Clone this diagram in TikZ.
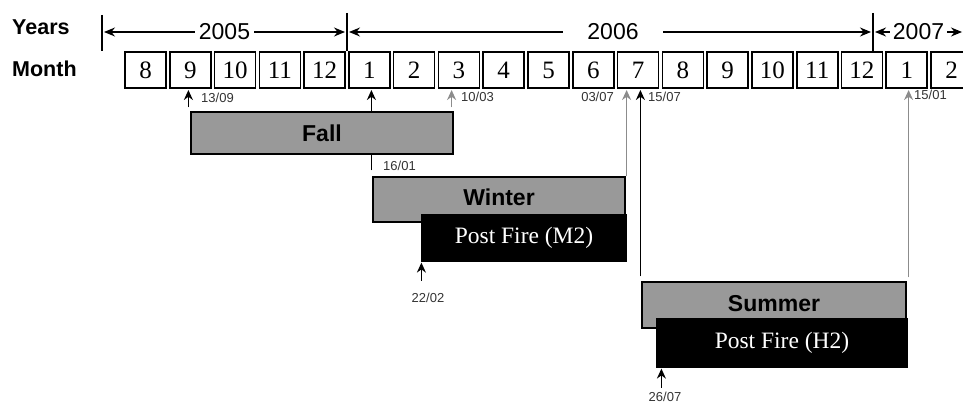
\documentclass[tikz,border=0pt]{standalone}
\usepackage{fontspec}
\setmainfont{Liberation Serif}
\setsansfont{Liberation Sans}
\usetikzlibrary{arrows.meta}
\colorlet{seasonbg}{black!40}
\colorlet{lateray}{black!45}
\colorlet{datetxt}{black!80}
\tikzset{tlp/.style={
  x=1pt,
  y=-1pt
}}
\tikzset{rowlbl/.style={
  anchor=base west,
  inner sep=0pt,
  font=\sffamily\bfseries\fontsize{21.5}{21.5}\selectfont
}}
\tikzset{mbox/.style={
  draw,
  line width=1.6pt,
  minimum width=41pt,
  minimum height=36pt,
  inner sep=0pt,
  font=\fontsize{25}{25}\selectfont
}}
\tikzset{sbox/.style={
  draw,
  line width=1.2pt,
  fill=seasonbg,
  inner sep=0pt,
  font=\sffamily\bfseries\fontsize{23}{23}\selectfont
}}
\tikzset{pfbox/.style={
  sbox,
  fill=black,
  text=white,
  font=\fontsize{23.5}{23.5}\selectfont
}}
\tikzset{yrar/.style={
  {Stealth[length=11pt,width=9pt]}-{Stealth[length=11pt,width=9pt]},
  line width=1.3pt
}}
\tikzset{yrlbl/.style={
  fill=white,
  inner ysep=0pt,
  font=\sffamily\fontsize{23}{23}\selectfont
}}
\tikzset{upar/.style={
  -{Stealth[length=10pt,width=9pt]},
  line width=1.6pt
}}
\tikzset{gupar/.style={upar,lateray}}
\tikzset{dlbl/.style={
  inner sep=0pt,
  text=datetxt,
  font=\sffamily\fontsize{13}{13}\selectfont
}}

\begin{document}
\begin{tikzpicture}[tlp]
    \useasboundingbox (0,0) rectangle (963,404);

    %% Header rows

    \node[rowlbl] (years) at (12,35) {Years};
    \node[rowlbl] (month) at (12,77) {Month};

    % Month boxes
    \foreach \m [count=\i from 0] in {8,9,10,11,12,1,2,3,4,5,6,7,8,9,10,11,12,1,2}
      \node[mbox] (m\i) at (145.5+44.78*\i,70) {\m};

    % Year ticks and spans
    \coordinate (yr) at (0,32);
    \coordinate (row) at (0,90);
    \coordinate (t0) at (102,15);
    \coordinate (t1) at (347,13);
    \coordinate (t2) at (873,13);
    \coordinate (tend) at (962,32);
    \draw[line width=1.3pt] (t0) -- (t0 |- m0.north);
    \draw[line width=1.3pt] (t1) -- (t1 |- m0.north);
    \draw[line width=1.3pt] (t2) -- (t2 |- m0.north);
    \draw[yrar] ([xshift=2pt]t0 |- yr)
      -- node[yrlbl,inner xsep=4pt] (y2005) {2005} ([xshift=-2pt]t1 |- yr);
    \draw[yrar] ([xshift=2pt]t1 |- yr)
      -- node[yrlbl,inner xsep=24pt,xshift=3pt] (y2006) {2006} ([xshift=-2pt]t2 |- yr);
    \draw[yrar] ([xshift=2pt]t2 |- yr)
      -- node[yrlbl,inner xsep=3pt] (y2007) {2007} (tend);

    %% Season boxes

    \node[sbox,minimum width=252pt,minimum height=45pt,text depth=5pt] (winter) at (499,199.5) {Winter};
    \node[pfbox,minimum width=204pt,minimum height=46pt] (pfm) at (524,238) {Post Fire (M2)};
    \node[sbox,minimum width=264pt,minimum height=46pt,text depth=4pt] (summer) at (774,305) {Summer};
    \node[pfbox,minimum width=250pt,minimum height=48pt] (pfh) at (782,343) {Post Fire (H2)};

    % Long arrows (behind Fall)
    \coordinate (a1601) at ([xshift=-1pt,yshift=6pt]winter.north west);
    \draw[upar] (a1601) -- (a1601 |- row);
    \coordinate (a0307) at ([xshift=1pt]winter.north east);
    \draw[gupar] (a0307) -- (a0307 |- row);
    \coordinate (a1507) at ([xshift=-1pt,yshift=5pt]summer.north west);
    \draw[upar] (a1507) -- (a1507 |- row);
    \coordinate (a1501) at ([xshift=2pt,yshift=4pt]summer.north east);
    \draw[gupar] (a1501) -- (a1501 |- row);

    \node[sbox,minimum width=262pt,minimum height=42pt] (fall) at (322,133) {Fall};

    % Short arrows
    \coordinate (a1309) at ([xshift=-2pt,yshift=4pt]fall.north west);
    \draw[upar] (a1309) -- (a1309 |- row);
    \coordinate (a1003) at ([xshift=-2pt,yshift=4pt]fall.north east);
    \draw[gupar] (a1003) -- (a1003 |- row);
    \coordinate (a2202) at ([yshift=-19pt]pfm.south west);
    \draw[upar] (a2202) -- ([yshift=-1pt]pfm.south west);
    \coordinate (a2607) at ([xshift=5pt,yshift=-20pt]pfh.south west);
    \draw[upar] (a2607) -- ([xshift=5pt,yshift=-1pt]pfh.south west);

    %% Dates

    \node[dlbl,anchor=west] (d1309) at (201,98) {13/09};
    \node[dlbl,anchor=west] (d1601) at (383,166) {16/01};
    \node[dlbl,anchor=west] (d1003) at (461,97) {10/03};
    \node[dlbl,anchor=east] (d0307) at (614,97) {03/07};
    \node[dlbl,anchor=west] (d1507) at (648,97) {15/07};
    \node[dlbl,anchor=west] (d1501) at (914,95) {15/01};
    \node[dlbl] (d2202) at (428,298) {22/02};
    \node[dlbl] (d2607) at (665,397) {26/07};

\end{tikzpicture}
\end{document}
